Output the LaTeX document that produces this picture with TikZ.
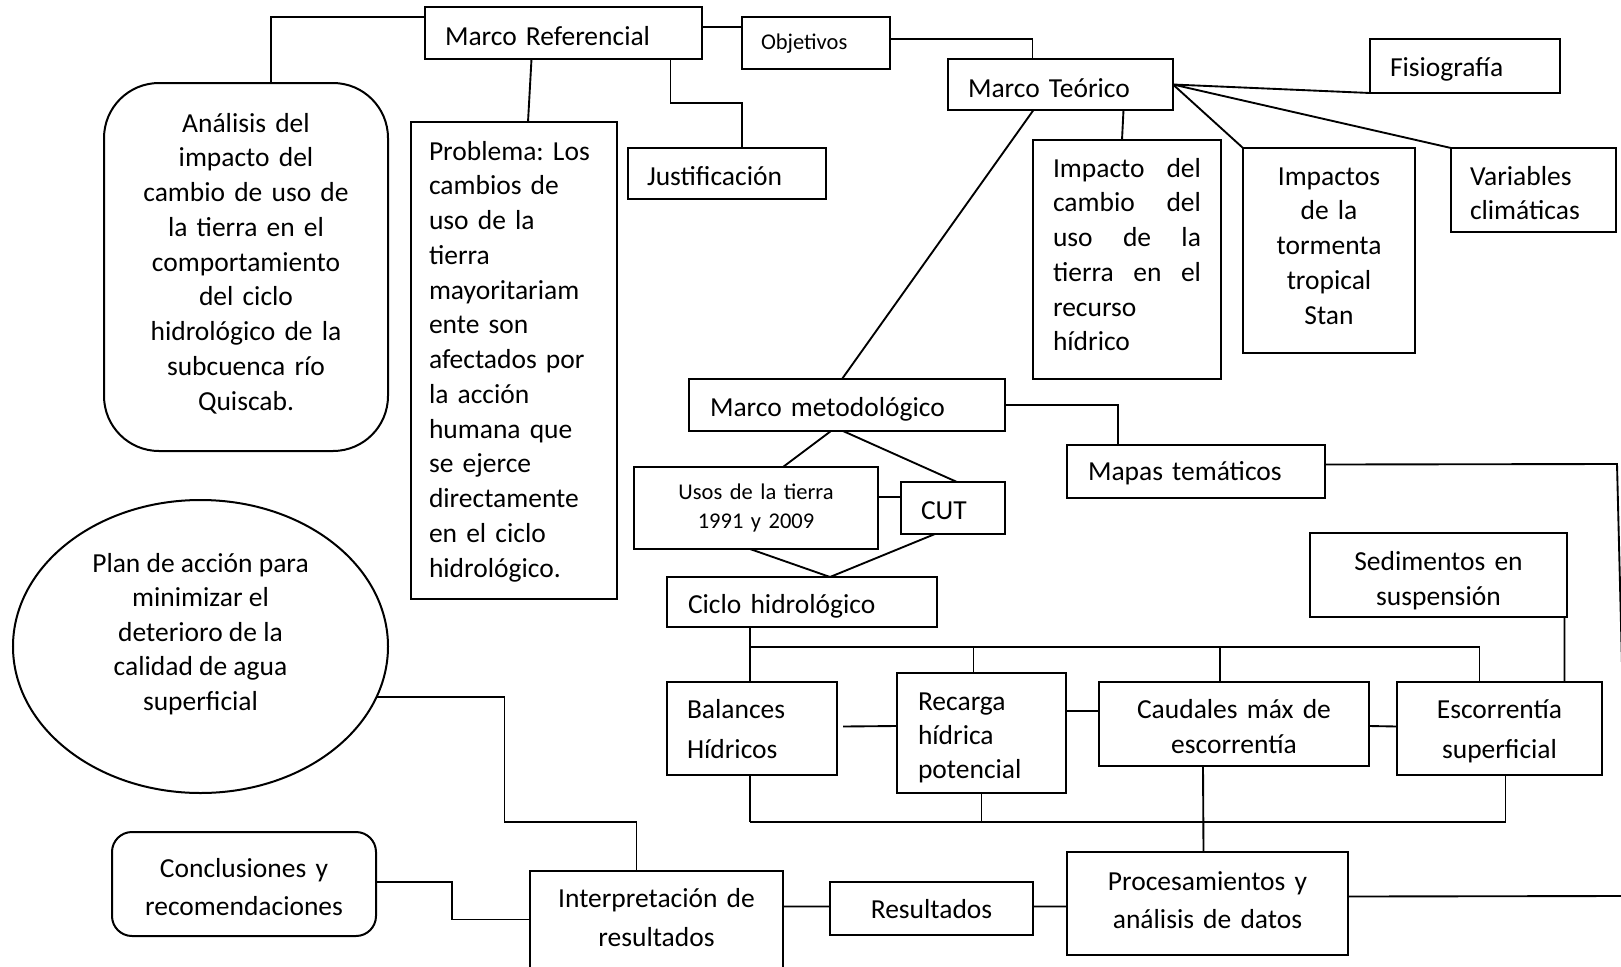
\documentclass[tikz,border=0pt]{standalone}
\usepackage{fontspec}
\setmainfont{Carlito}
\usetikzlibrary{calc,shapes.geometric}
\frenchspacing

\tikzset{
  bx/.style={draw, line width=0.8pt, inner ysep=0pt, outer sep=0pt, anchor=north west, font=\fontsize{11}{13.9}\selectfont},
  sm/.style={font=\fontsize{9}{11.6}\selectfont},
  ln/.style={line width=0.75pt},
}

\begin{document}
\begin{tikzpicture}[x=0.4pt,y=-0.4pt]
\useasboundingbox (0,0) rectangle (1621,967);
\clip (0,0) rectangle (1621,967);

\node[bx, align=left, inner xsep=8pt, text width=94.8pt, text height=15.2pt, text depth=5.6pt] (mr) at (425,7) {Marco Referencial};
\node[bx, sm, align=left, inner xsep=7.6pt, text width=44pt, text height=12.8pt, text depth=8pt] (ob) at (742,17) {Objetivos};
\node[bx, align=left, inner xsep=8pt, text width=74pt, text height=15.2pt, text depth=5.2pt] (mt) at (948,59) {Marco Teórico};
\node[bx, align=left, inner xsep=8pt, text width=60pt, text height=14.8pt, text depth=6.8pt] (fi) at (1370,39) {Fisiografía};

\node[bx, rounded corners=22pt, align=center, inner xsep=4pt, text width=105.6pt, text height=19.6pt, text depth=127.6pt] (an) at (104,83)
  {Análisis del\\impacto del\\cambio de uso de\\la tierra en el\\comportamiento\\del ciclo\\hidrológico de la\\subcuenca río\\Quiscab.};
\node[bx, align=left, inner xsep=7.2pt, text width=68pt, text height=15.2pt, text depth=175.6pt] (pr) at (411,122)
  {Problema: Los\\cambios de\\uso de la\\tierra\\mayoritariam\\ente son\\afectados por\\la acción\\humana que\\se ejerce\\directamente\\en el ciclo\\hidrológico.};
\node[bx, align=left, inner xsep=7.6pt, text width=64pt, text height=14.8pt, text depth=5.6pt] (ju) at (628,148) {Justificación};

\node[bx, align=left, inner xsep=8pt, text width=59.2pt, text height=14.8pt, text depth=80.8pt] (ic) at (1033,140)
  {Impacto\hfill del\\cambio\hfill del\\uso\hfill de\hfill la\\tierra\hfill en\hfill el\\recurso\\hídrico};
\node[bx, align=center, inner xsep=4pt, text width=60.8pt, text height=14.8pt, text depth=67.2pt] (it) at (1243,148)
  {Impactos\\de la\\tormenta\\tropical\\Stan};
\node[bx, align=left, inner xsep=7.6pt, text width=50.8pt, text height=14.8pt, text depth=18.8pt] (vc) at (1451,148) {Variables\\climáticas};

\node[bx, align=left, inner xsep=8.4pt, text width=109.6pt, text height=14.8pt, text depth=6pt] (mm) at (689,379) {Marco metodológico};
\node[bx, align=left, inner xsep=8.4pt, text width=86.4pt, text height=14pt, text depth=7.2pt] (ma) at (1067,445) {Mapas temáticos};
\node[bx, sm, align=center, inner xsep=4pt, text width=89.6pt, text height=12.8pt, text depth=20pt] (us) at (634,467) {Usos de la tierra\\1991 y 2009};
\node[bx, align=left, inner xsep=8pt, text width=25.6pt, text height=14.8pt, text depth=6pt] (cut) at (901,482) {CUT};
\node[bx, align=left, inner xsep=8.4pt, text width=91.2pt, text height=14.4pt, text depth=5.6pt] (ci) at (667,577) {Ciclo hidrológico};
\node[bx, font=\fontsize{11}{14}\selectfont, align=center, inner xsep=4pt, text width=94.8pt, text height=14.8pt, text depth=18.8pt] (se) at (1310,533) {Sedimentos en\\suspensión};

\node[bx, font=\fontsize{11}{16}\selectfont, align=left, inner xsep=8pt, text width=52pt, text height=14.4pt, text depth=22.8pt] (ba) at (667,682) {Balances\\Hídricos};
\node[bx, font=\fontsize{11}{13.6}\selectfont, align=left, inner xsep=8.4pt, text width=50.8pt, text height=14.8pt, text depth=33.2pt] (re) at (897,673) {Recarga\\hídrica\\potencial};
\node[bx, font=\fontsize{11}{14}\selectfont, align=center, inner xsep=4pt, text width=100pt, text height=14.4pt, text depth=19.2pt] (ca) at (1099,682) {Caudales máx de\\escorrentía};
\node[bx, font=\fontsize{11}{16}\selectfont, align=center, inner xsep=4pt, text width=74pt, text height=14.4pt, text depth=22.8pt] (es) at (1397,682) {Escorrentía\\superficial};

\node[bx, font=\fontsize{11}{15.2}\selectfont, align=center, inner xsep=4pt, text width=104.4pt, text height=15.2pt, text depth=26pt] (pro) at (1067,852) {Procesamientos y\\análisis de datos};
\node[bx, align=center, inner xsep=4pt, text width=73.2pt, text height=14.4pt, text depth=6.8pt] (res) at (830,882) {Resultados};
\node[bx, font=\fontsize{11}{15.6}\selectfont, align=center, inner xsep=4pt, text width=93.2pt, text height=14.4pt, text depth=37.2pt] (int) at (530,871) {Interpretación de\\resultados};
\node[bx, rounded corners=8pt, font=\fontsize{11}{15.2}\selectfont, align=center, inner xsep=4pt, text width=97.6pt, text height=18pt, text depth=23.6pt] (con) at (112,832) {Conclusiones y\\recomendaciones};

\node[draw, ellipse, line width=0.8pt, inner sep=0pt, outer sep=0pt, minimum width=150pt, minimum height=117.2pt, font=\fontsize{11}{13.8}\selectfont] (pl) at (200.5,646.5)
  {\raisebox{2.2pt}[0pt][0pt]{\parbox[c]{100pt}{\centering Plan de acción para\\minimizar el\\deterioro de la\\calidad de agua\\superficial}}};

\coordinate (e1) at (1617,464);
\coordinate (e2) at (1622,665);
\coordinate (e3) at (1625,896);
\coordinate (t1) at ($(ci.south)+(-52,20)$);
\coordinate (u1) at ($(ba.south)+(-2,47)$);

\draw[ln] ($(mr.west)+(0,-16)$) -| ($(an.north)+(25,0)$);
\draw[ln] ($(mr.south)+(-32,0)$) -- ($(pr.north)+(14,0)$);
\draw[ln] ($(mr.south)+(107,0)$) -- ++(0,44) -| ($(ju.north)+(15,0)$);
\draw[ln] ($(mr.east)+(0,-6)$) -- ($(ob.west)+(0,-16)$);
\draw[ln] ($(ob.east)+(0,-4)$) -| ($(mt.north)+(-28,0)$);
\draw[ln] (mt.east) -- (fi.south west);
\draw[ln] (mt.east) -- (it.north west);
\draw[ln] (mt.east) -- (vc.north west);
\draw[ln] ($(mt.south)+(63,0)$) -- ($(ic.north)+(-5,0)$);
\draw[ln] ($(mt.south)+(-27,0)$) -- ($(mm.north)+(-5,0)$);

\draw[ln] ($(mm.south)+(-16,0)$) -- ($(us.north)+(27,0)$);
\draw[ln] ($(mm.south)+(-4,0)$) -- ($(cut.north)+(4,0)$);
\draw[ln] ($(us.east)+(0,-11)$) -- ($(cut.west)+(0,-11)$);
\draw[ln] ($(us.south)+(-6,0)$) -- ($(ci.north)+(28,0)$);
\draw[ln] ($(cut.south)+(-18,0)$) -- ($(ci.north)+(28,0)$);
\draw[ln] (mm.east) -| ($(ma.north)+(-78,0)$);
\draw[ln] ($(ma.east)+(0,-7)$) -- (e1) -- (e2);

\draw[ln] ($(ci.south)+(-52,0)$) -- ($(ba.north)+(-2,0)$);
\draw[ln] ($(es.north)+(-20,0)$) |- (t1);
\draw[ln] ($(ca.north)+(-14,0)$) |- (t1);
\draw[ln] ($(re.north)+(-8,0)$) |- (t1);
\draw[ln] ($(se.south)+(126,0)$) -- ($(es.north)+(65,0)$);
\draw[ln] ($(ba.east)+(6,-2)$) -- ($(re.west)+(0,-7)$);
\draw[ln] ($(re.east)+(0,-22)$) -- ($(ca.west)+(0,-13)$);
\draw[ln] ($(ca.east)+(0,2)$) -- ($(es.west)+(0,-2)$);

\draw[ln] ($(ba.south)+(-2,0)$) -- (u1);
\draw[ln] (re.south) |- (u1);
\draw[ln] ($(es.south)+(6,0)$) |- (u1);
\draw[ln] ($(ca.south)+(-31,0)$) -- ($(pro.north)+(-4,0)$);
\draw[ln] ($(pro.east)+(0,-7)$) -- (e3);
\draw[ln] ($(res.east)+(0,-2)$) -- ($(pro.west)+(0,3)$);
\draw[ln] ($(int.east)+(0,-29)$) -- ($(res.west)+(0,-2)$);
\draw[ln] ($(con.east)+(0,-2)$) -- ++(76,0) |- ($(int.west)+(0,-16)$);
\draw[ln] (pl.-16) -- ++(128,0) |- ($(int.north)+(-20,-49)$) -- ($(int.north)+(-20,0)$);
\end{tikzpicture}
\end{document}
